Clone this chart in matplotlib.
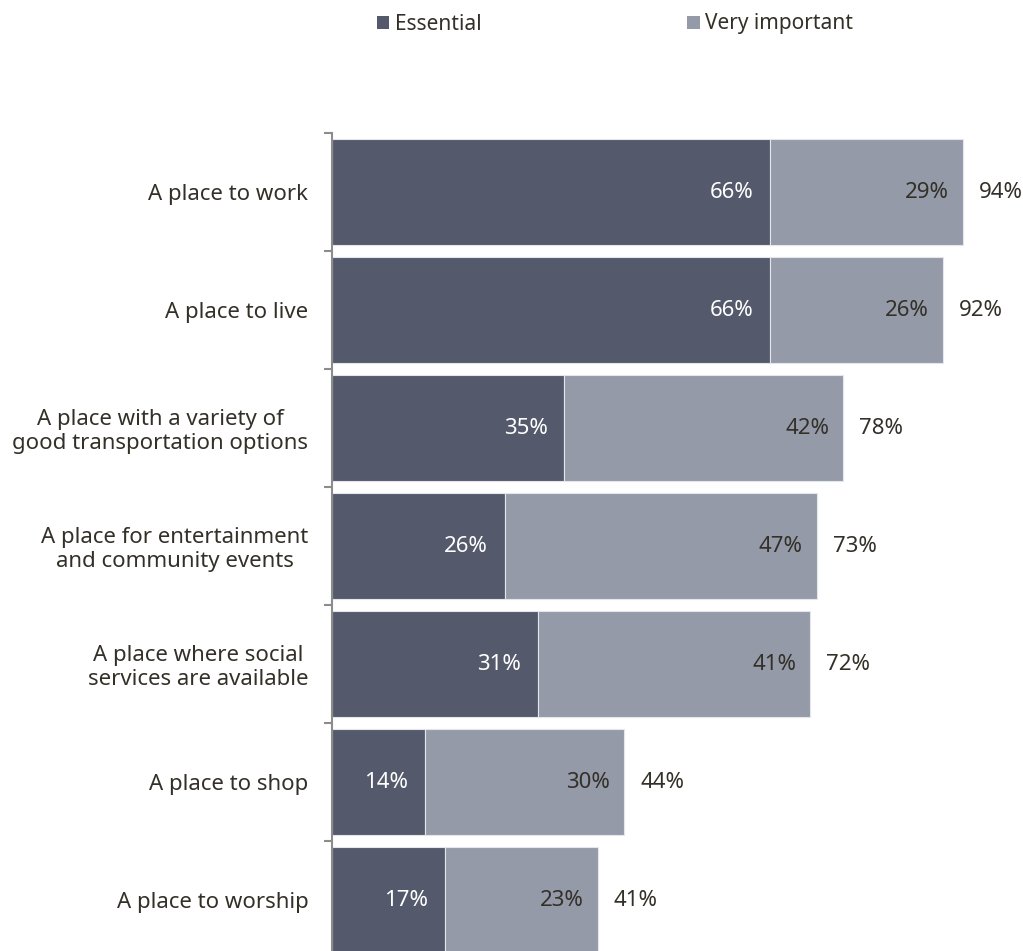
import matplotlib.pyplot as plt
from matplotlib.patches import Patch

plt.rcParams['font.family'] = ['Noto Sans', 'DejaVu Sans']

categories = ["A place to work", "A place to live",
              "A place with a variety of\ngood transportation options",
              "A place for entertainment\nand community events",
              "A place where social\nservices are available",
              "A place to shop", "A place to worship"]
essential = [66, 66, 35, 26, 31, 14, 17]
very_important = [29, 26, 42, 47, 41, 30, 23]
totals = [94, 92, 78, 73, 72, 44, 41]

dark = '#545a6b'
light = '#959aa9'
txt = '#333028'

fig = plt.figure(figsize=(10.23, 9.51), dpi=100)
# axes run a little past the bottom edge, so the last bar is cut off
ax = fig.add_axes([332/1023, -8/951, 691/1023, 826/951])

y = list(range(len(categories)))
ax.barh(y, essential, height=0.9, color=dark, edgecolor='#e4e6ec', linewidth=0.8)
ax.barh(y, very_important, left=essential, height=0.9, color=light,
        edgecolor='#e4e6ec', linewidth=0.8)

for i in y:
    e = essential[i]
    v = very_important[i]
    ax.text(e - 2.5, i, f"{e}%", ha='right', va='center', color='white', fontsize=16)
    ax.text(e + v - 2.1, i, f"{v}%", ha='right', va='center', color=txt, fontsize=16)
    ax.text(e + v + 2.4, i, f"{totals[i]}%", ha='left', va='center', color=txt, fontsize=16)

ax.set_xlim(0, 104.06)
ax.set_ylim(len(categories) - 0.5, -0.5)
ax.set_yticks(y)
ax.set_yticklabels(categories, fontsize=16, color=txt, ha='right', multialignment='center',
                   linespacing=1.15)
ax.tick_params(axis='y', length=0, pad=17)
ax.set_yticks([i - 0.5 for i in range(len(categories) + 1)], minor=True)
ax.tick_params(axis='y', which='minor', length=6, width=1.5, color='#8c8c8c')
ax.set_xticks([])
for s in ['top', 'right', 'bottom']:
    ax.spines[s].set_visible(False)
ax.spines['left'].set_color('#8c8c8c')
ax.spines['left'].set_linewidth(1.5)

handles = [Patch(facecolor=dark, label='Essential'),
           Patch(facecolor=light, label='Very important')]
fig.legend(handles=handles, loc='center', bbox_to_anchor=(615/1023, 1 - 24/951),
           ncol=2, frameon=False, fontsize=15, handlelength=0.6, handleheight=0.6,
           handletextpad=0.25, columnspacing=9.9, labelcolor=txt)

fig.savefig('out.png', dpi=100)
